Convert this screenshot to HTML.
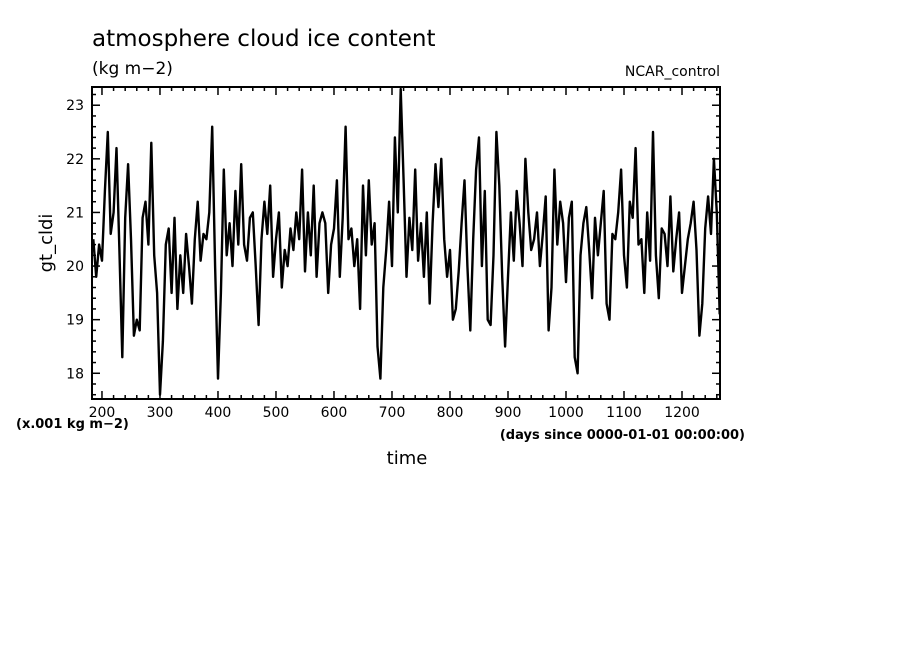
<!DOCTYPE html>
<html><head><meta charset="utf-8"><style>
body{margin:0;background:#fff;width:904px;height:654px;overflow:hidden;font-family:"DejaVu Sans","Liberation Sans",sans-serif}
svg text{font-family:"DejaVu Sans","Liberation Sans",sans-serif;fill:#000}
</style></head><body>
<svg id="chart" width="904" height="654">
<text x="92" y="46" font-size="23">atmosphere cloud ice content</text>
<text x="92" y="74" font-size="17">(kg m−2)</text>
<text x="720" y="76" font-size="14" text-anchor="end">NCAR_control</text>
<text x="52" y="243" font-size="18" text-anchor="middle" transform="rotate(-90 52 243)">gt_cldi</text>
<text x="407" y="464" font-size="18" text-anchor="middle">time</text>
<text x="16" y="428" font-size="13" font-weight="bold">(x.001 kg m−2)</text>
<text x="745" y="439" font-size="13" font-weight="bold" text-anchor="end">(days since 0000-01-01 00:00:00)</text>
<g id="ticks"></g>
<path id="series" fill="none" stroke="#000" stroke-width="2.4" stroke-linejoin="round"></path>
<rect x="92" y="87" width="628" height="312" fill="none" stroke="#000" stroke-width="2"></rect>
</svg>
<script>
const startDay = 185;
const stepDays = 5;
const values = [
20.5,19.8,20.4,20.1,21.4,22.5,20.6,21.0,22.2,20.3,18.3,20.9,21.9,20.5,18.7,19.0,18.8,20.9,21.2,20.4,
22.3,20.2,19.5,17.6,18.6,20.4,20.7,19.5,20.9,19.2,20.2,19.5,20.6,20.0,19.3,20.5,21.2,20.1,20.6,20.5,
21.0,22.6,20.0,17.9,19.5,21.8,20.2,20.8,20.0,21.4,20.4,21.9,20.4,20.1,20.9,21.0,20.0,18.9,20.5,21.2,
20.6,21.5,19.8,20.5,21.0,19.6,20.3,20.0,20.7,20.3,21.0,20.5,21.8,19.9,21.0,20.2,21.5,19.8,20.8,21.0,
20.8,19.5,20.4,20.7,21.6,19.8,20.9,22.6,20.5,20.7,20.0,20.5,19.2,21.5,20.2,21.6,20.4,20.8,18.5,17.9,
19.6,20.3,21.2,20.0,22.4,21.0,23.3,21.6,19.8,20.9,20.3,21.8,20.1,20.8,19.8,21.0,19.3,20.8,21.9,21.1,
22.0,20.5,19.8,20.3,19.0,19.2,19.9,20.8,21.6,20.0,18.8,20.5,21.8,22.4,20.0,21.4,19.0,18.9,20.2,22.5,
21.5,19.8,18.5,19.8,21.0,20.1,21.4,20.8,20.0,22.0,21.0,20.3,20.5,21.0,20.0,20.6,21.3,18.8,19.6,21.8,
20.4,21.2,20.8,19.7,20.9,21.2,18.3,18.0,20.2,20.8,21.1,20.3,19.4,20.9,20.2,20.8,21.4,19.3,19.0,20.6,
20.5,21.0,21.8,20.2,19.6,21.2,20.9,22.2,20.4,20.5,19.5,21.0,20.1,22.5,20.2,19.4,20.7,20.6,20.0,21.3,
19.9,20.5,21.0,19.5,20.0,20.5,20.8,21.2,20.3,18.7,19.3,20.7,21.3,20.6,22.0,21.0,19.1];
const xTickLabels = [200,300,400,500,600,700,800,900,1000,1100,1200];
const yTickLabels = [18,19,20,21,22,23];

const L=92,R=720,T=87,B=399;
const xMin=182.8,xMax=1265.5,yMin=17.52,yMax=23.34;
const xs=d=>L+(d-xMin)/(xMax-xMin)*(R-L);
const ys=v=>B-(v-yMin)/(yMax-yMin)*(B-T);
const NS="http://www.w3.org/2000/svg";
let d="";
values.forEach((v,i)=>{const x=Math.min(xs(startDay+i*stepDays),R),y=ys(v);d+=(i?"L":"M")+x.toFixed(1)+","+y.toFixed(1);});
document.getElementById("series").setAttribute("d",d);
const g=document.getElementById("ticks");
function line(x1,y1,x2,y2){const l=document.createElementNS(NS,"line");l.setAttribute("x1",x1);l.setAttribute("y1",y1);l.setAttribute("x2",x2);l.setAttribute("y2",y2);l.setAttribute("stroke","#000");l.setAttribute("stroke-width","1.5");


g.appendChild(l);}
for(let t=Math.ceil(xMin/20)*20;t<=xMax;t+=20){const x=xs(t),m=t%100===0?8:4;line(x,B,x,B-m);line(x,T,x,T+m);}
for(let t=Math.ceil(yMin*5)/5;t<=yMax;t+=0.2){const y=ys(t),m=Math.abs(t-Math.round(t))<0.01?8:4;line(L,y,L+m,y);line(R,y,R-m,y);}
xTickLabels.forEach(t=>{const tx=document.createElementNS(NS,"text");tx.setAttribute("x",xs(t));tx.setAttribute("y",417);tx.setAttribute("font-size","14");tx.setAttribute("text-anchor","middle");tx.textContent=t;


g.appendChild(tx);});
yTickLabels.forEach(t=>{const tx=document.createElementNS(NS,"text");tx.setAttribute("x",84);tx.setAttribute("y",ys(t)+5);tx.setAttribute("font-size","14");tx.setAttribute("text-anchor","end");tx.textContent=t;


g.appendChild(tx);});
</script>
</body></html>
